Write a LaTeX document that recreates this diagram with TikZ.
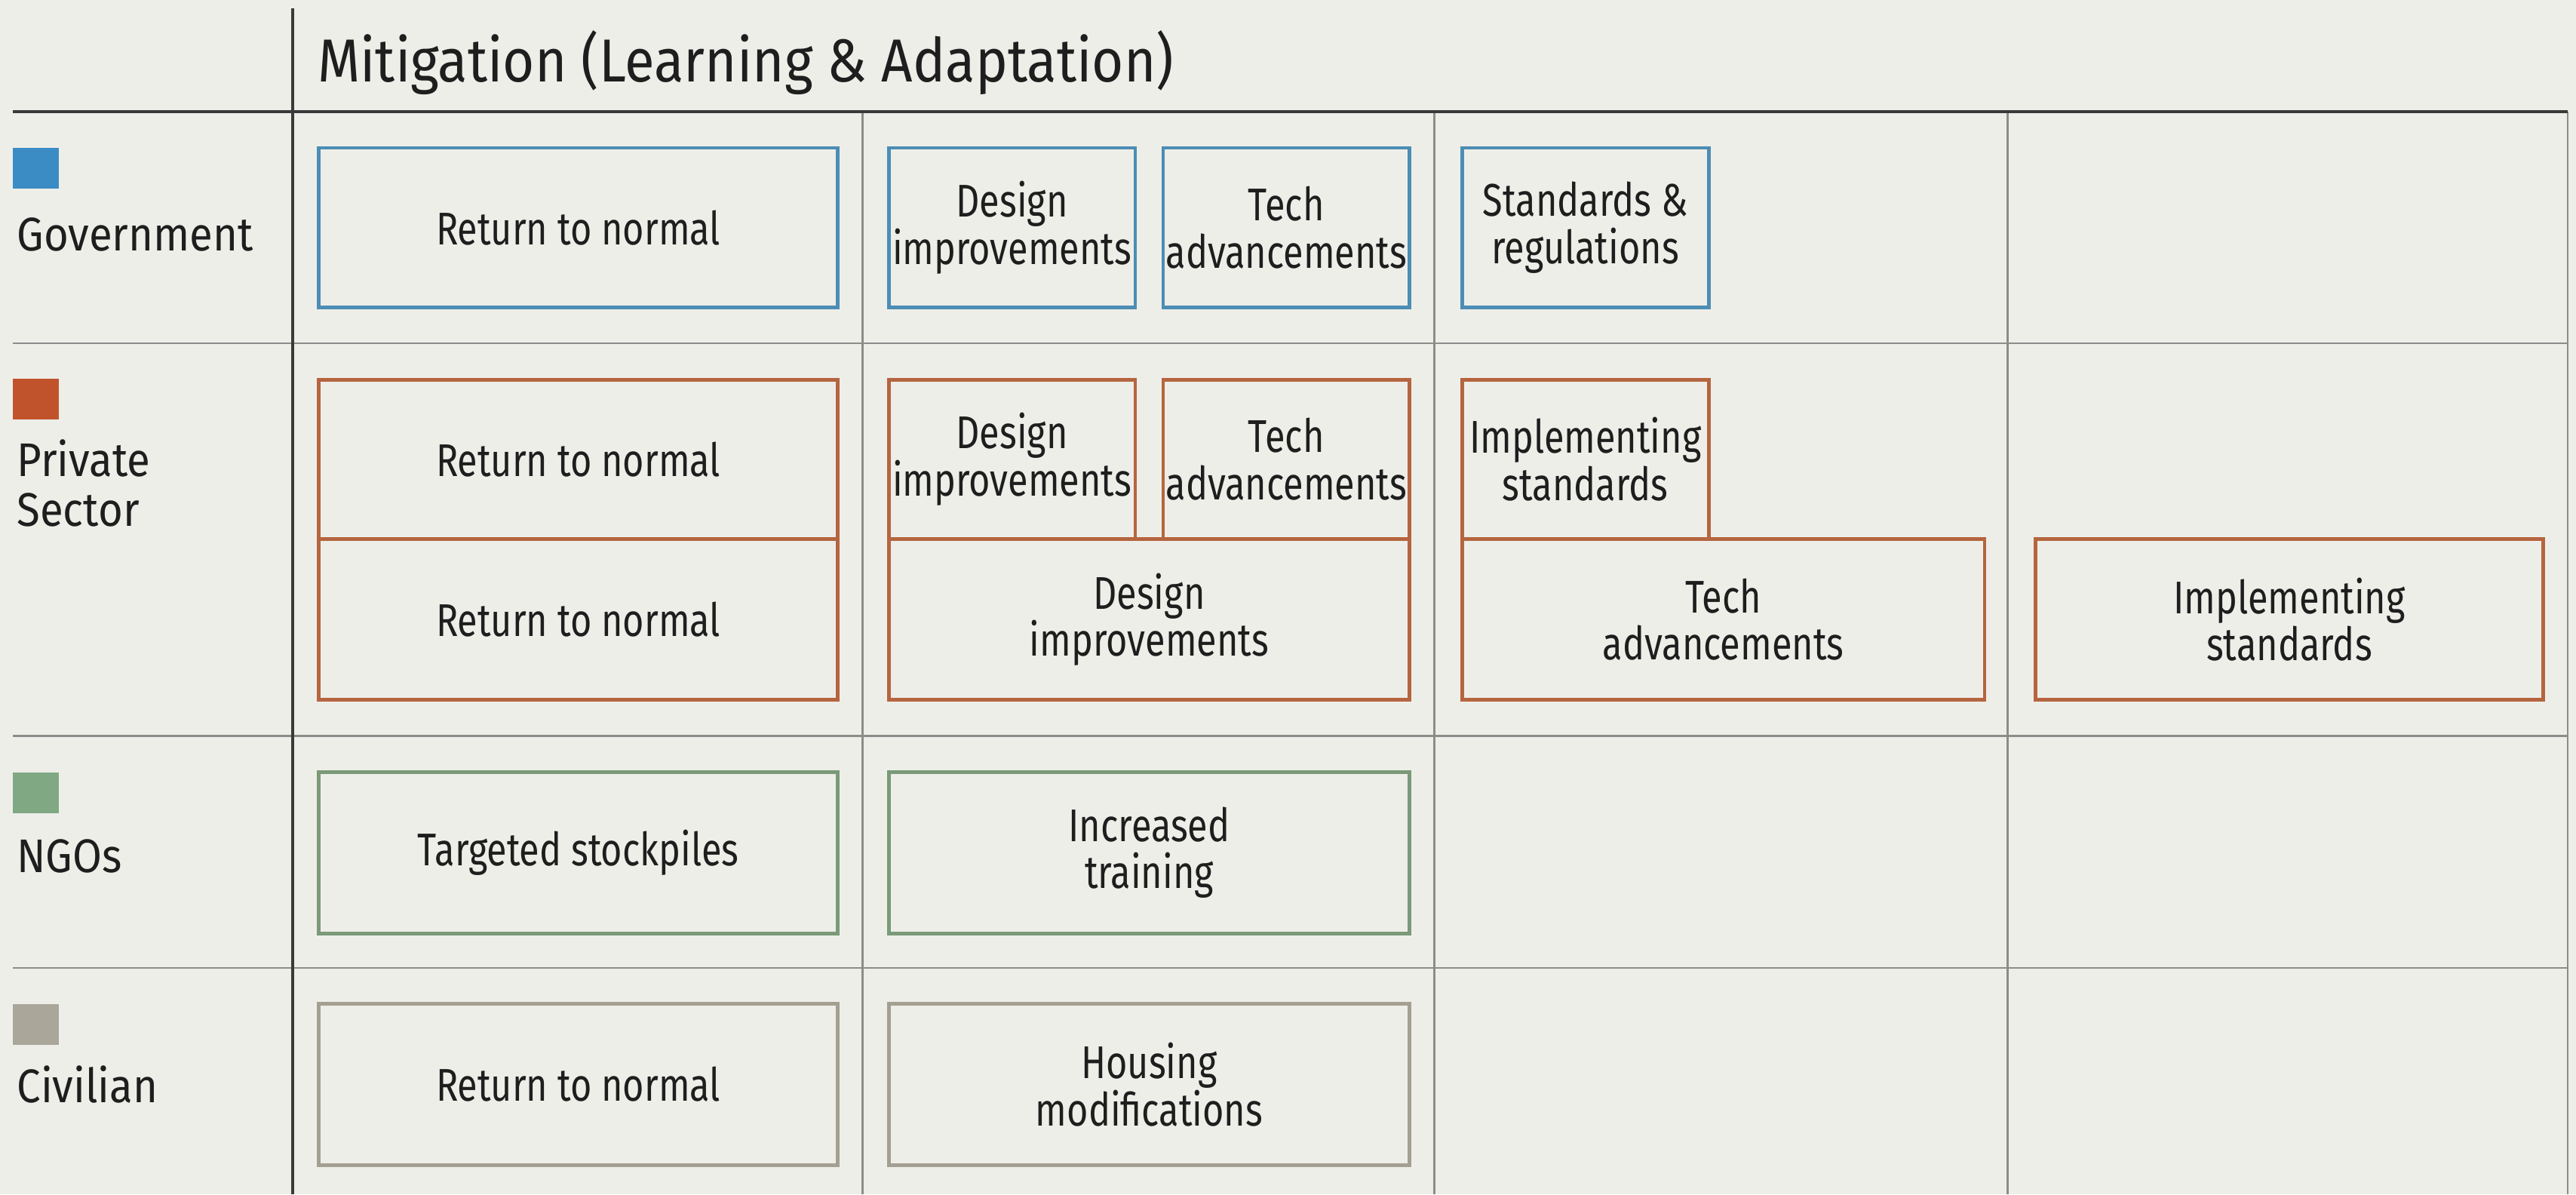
\documentclass[tikz,border=0pt]{standalone}
\usepackage{fontspec}
\setmainfont{Fira Sans}[FakeStretch=0.8]
\newfontfamily\widefont{Fira Sans}[FakeStretch=0.9]
\definecolor{bg}{HTML}{EEEEE9}
\definecolor{txt}{HTML}{1E1E1E}
\definecolor{gridc}{HTML}{8C8C8A}
\definecolor{darkc}{HTML}{3A3A3A}
\definecolor{govB}{HTML}{4C8DB5}
\definecolor{govS}{HTML}{3B8CC4}
\definecolor{priB}{HTML}{B5653F}
\definecolor{priS}{HTML}{C0532B}
\definecolor{ngoB}{HTML}{7A9A78}
\definecolor{ngoS}{HTML}{7FA883}
\definecolor{civB}{HTML}{A3A092}
\definecolor{civS}{HTML}{AAA69A}
\newcommand\cellbox[7]{\node[cbox,draw=#6,minimum width={(#4-#2)*0.02178cm},minimum height={(#5-#3)*0.02178cm}] (#1) at ({(#2+#4)/2},{(#3+#5)/2}) {#7};}
\begin{document}
\begin{tikzpicture}[x=0.02178cm,y=-0.02178cm,
  cbox/.style={rectangle,line width=1.4pt,inner sep=0pt,outer sep=0pt,align=center,text=txt,font=\fontsize{17.3}{17.8}\selectfont},
  rowlab/.style={anchor=west,align=left,text=txt,inner sep=0pt,font=\widefont\fontsize{17.8}{18.6}\selectfont},
  swatch/.style={rectangle,inner sep=0pt,outer sep=0pt,minimum width={28*0.02178cm},minimum height={25*0.02178cm}},
  gridline/.style={gridc,line width=0.7pt},
  darkline/.style={darkc,line width=1.1pt}]
\fill[bg] (0,0) rectangle (1568,727);
\useasboundingbox (0,0) rectangle (1568,727);
% grid
\foreach \yy in {209,448,589} {\draw[gridline] (8,\yy) -- (1563,\yy);}
\foreach \xx in {525,873,1222} {\draw[gridline] (\xx,68) -- (\xx,727);}
\draw[gridline] (1563,68) -- (1563,727);
\draw[darkline] (8,68) -- (1563,68);
\draw[darkline] (178,5) -- (178,727);
% title
\node[anchor=base west,inner sep=0pt,text=txt,font=\widefont\fontsize{22.9}{24}\selectfont] (title) at (193,50) {Mitigation (Learning \& Adaptation)};
% row labels
\node[swatch,fill=govS] (sgov) at (22,102.5) {};
\node[rowlab] (lgov) at (10,143) {Government};
\node[swatch,fill=priS] (spri) at (22,243) {};
\node[rowlab] (lpri) at (10,294) {Private\\Sector};
\node[swatch,fill=ngoS] (sngo) at (22,482.5) {};
\node[rowlab] (lngo) at (10,521) {NGOs};
\node[swatch,fill=civS] (sciv) at (22,623.5) {};
\node[rowlab] (lciv) at (10,660) {Civilian};
% government
\cellbox{g1}{194}{90}{510}{187}{govB}{Return to normal}
\cellbox{g2}{541}{90}{691}{187}{govB}{Design\\improvements}
\cellbox{g3}{708}{90}{858}{187}{govB}{Tech\\advancements}
\cellbox{g4}{890}{90}{1040}{187}{govB}{Standards \&\\regulations}
% private sector
\cellbox{p1}{194}{231}{510}{328}{priB}{Return to normal}
\cellbox{p2}{194}{328}{510}{426}{priB}{Return to normal}
\cellbox{p3}{541}{231}{691}{328}{priB}{Design\\improvements}
\cellbox{p4}{708}{231}{858}{328}{priB}{Tech\\advancements}
\cellbox{p5}{541}{328}{858}{426}{priB}{Design\\improvements}
\cellbox{p6}{890}{231}{1040}{328}{priB}{Implementing\\standards}
\cellbox{p7}{890}{328}{1208}{426}{priB}{Tech\\advancements}
\cellbox{p8}{1239}{328}{1548}{426}{priB}{Implementing\\standards}
% NGOs
\cellbox{n1}{194}{470}{510}{568}{ngoB}{Targeted stockpiles}
\cellbox{n2}{541}{470}{858}{568}{ngoB}{Increased\\training}
% civilian
\cellbox{c1}{194}{611}{510}{709}{civB}{Return to normal}
\cellbox{c2}{541}{611}{858}{709}{civB}{Housing\\modifications}
\end{tikzpicture}
\end{document}
